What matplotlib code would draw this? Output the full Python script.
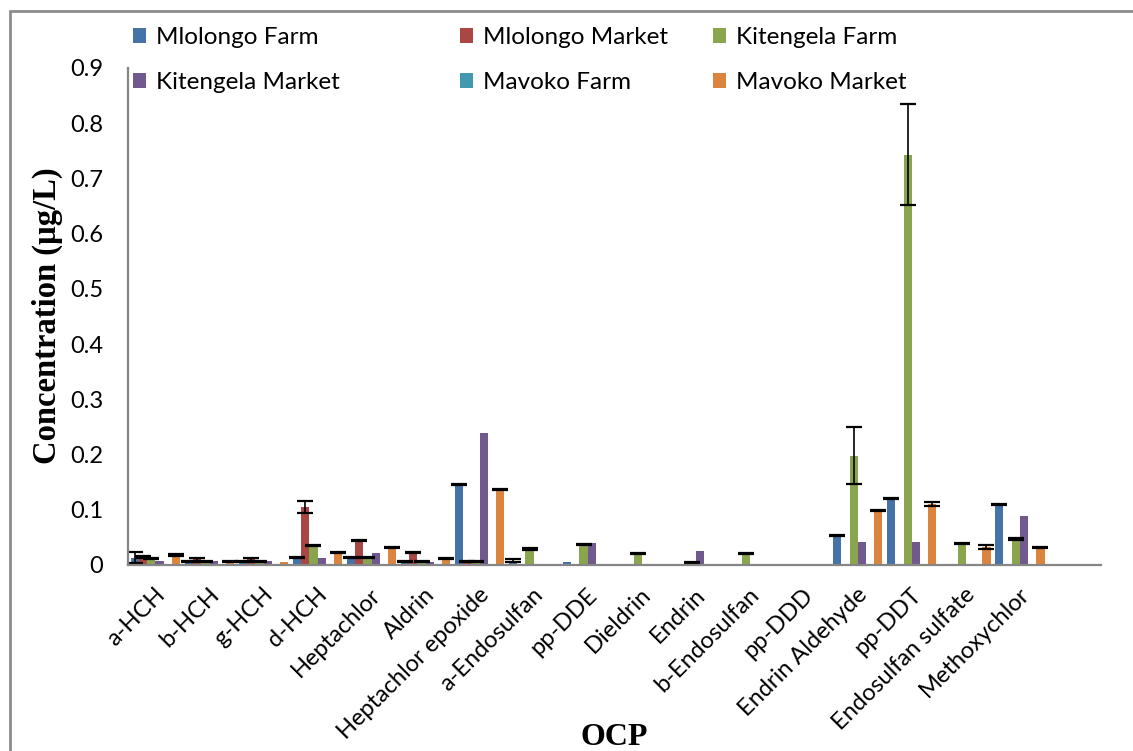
import numpy as np
import matplotlib
matplotlib.use("Agg")
import matplotlib.pyplot as plt
import matplotlib.transforms as mtransforms
from matplotlib.patches import Rectangle

plt.rcParams['font.family'] = ['Lato', 'DejaVu Sans']

# OCP residues by site (ug/L), one list per site
ocp_names = ['a-HCH', 'b-HCH', 'g-HCH', 'd-HCH', 'Heptachlor', 'Aldrin',
             'Heptachlor epoxide', 'a-Endosulfan', 'pp-DDE', 'Dieldrin',
             'Endrin', 'b-Endosulfan', 'pp-DDD', 'Endrin Aldehyde', 'pp-DDT',
             'Endosulfan sulfate', 'Methoxychlor']

series_names = ['Mlolongo Farm', 'Mlolongo Market', 'Kitengela Farm',
                'Kitengela Market', 'Mavoko Farm', 'Mavoko Market']

mlolongo_farm = [0.013, 0.007, 0.007, 0.013, 0.014, 0.006, 0.145, 0.008, 0.005,
                 0, 0, 0, 0, 0.053, 0.121, 0, 0.109]
mlolongo_market = [0.014, 0.010, 0.010, 0.105, 0.044, 0.023, 0.007, 0, 0,
                   0, 0, 0, 0, 0, 0, 0, 0]
kitengela_farm = [0.011, 0.007, 0.007, 0.035, 0.014, 0.006, 0.007, 0.029, 0.037,
                  0.020, 0.004, 0.020, 0, 0.198, 0.743, 0.039, 0.047]
kitengela_market = [0.007, 0.007, 0.007, 0.013, 0.022, 0.005, 0.239, 0, 0.040,
                    0, 0.025, 0, 0, 0.042, 0.042, 0, 0.089]
mavoko_farm = [0] * 17
mavoko_market = [0.018, 0.007, 0.005, 0.023, 0.032, 0.012, 0.137, 0, 0,
                 0, 0, 0, 0, 0.099, 0.110, 0.033, 0.032]

# standard deviations (0 = no error bar)
mlolongo_farm_sd = [0.010, 0.001, 0.001, 0.001, 0.001, 0.001, 0.001, 0.002, 0,
                    0, 0, 0, 0, 0.001, 0.001, 0, 0.001]
mlolongo_market_sd = [0.002, 0.002, 0.002, 0.010, 0.001, 0.001, 0.001, 0, 0,
                      0, 0, 0, 0, 0, 0, 0, 0]
kitengela_farm_sd = [0.001, 0.001, 0.001, 0.001, 0.001, 0.001, 0.001, 0.001, 0.001,
                     0.001, 0.001, 0.001, 0, 0.052, 0.091, 0.001, 0.001]
kitengela_market_sd = [0] * 17
mavoko_farm_sd = [0] * 17
mavoko_market_sd = [0.001, 0.001, 0, 0.001, 0.001, 0.001, 0.001, 0, 0,
                    0, 0, 0, 0, 0.001, 0.004, 0.004, 0.001]

all_values = [mlolongo_farm, mlolongo_market, kitengela_farm,
              kitengela_market, mavoko_farm, mavoko_market]
all_sds = [mlolongo_farm_sd, mlolongo_market_sd, kitengela_farm_sd,
           kitengela_market_sd, mavoko_farm_sd, mavoko_market_sd]
colors = ['#4572A7', '#AA4643', '#89A54E', '#71588F', '#4198AF', '#DB843D']

fig = plt.figure(figsize=(11.33, 7.51), dpi=100)
ax = fig.add_axes([0.1134, 0.2477, 0.9717 - 0.1134, 0.9095 - 0.2477])

x = np.arange(len(ocp_names))
bar_w = 0.152

handles = []
for k, (vals, sds, col) in enumerate(zip(all_values, all_sds, colors)):
    xpos = x + (k - 2.5) * bar_w
    b = ax.bar(xpos, vals, width=bar_w, color=col, linewidth=0,
               label=series_names[k])
    handles.append(b)
    vals = np.array(vals)
    sds = np.array(sds)
    has_err = sds > 0
    if has_err.any():
        ax.errorbar(xpos[has_err], vals[has_err], yerr=sds[has_err], fmt='none',
                    ecolor='black', elinewidth=1.2, capsize=6, capthick=1.6)

ax.set_xlim(-0.5, len(ocp_names) + 0.5)
ax.set_ylim(0, 0.9)
ax.set_yticks(np.arange(0, 0.91, 0.1))
ax.set_yticklabels(['0'] + ['%.1f' % v for v in np.arange(0.1, 0.91, 0.1)],
                   fontsize=17)
ax.set_xticks(x)
ax.set_xticklabels(ocp_names, rotation=45, ha='right', va='center',
                   rotation_mode='anchor', fontsize=17)
ax.tick_params(axis='both', length=0)
ax.tick_params(axis='x', pad=19)
ax.tick_params(axis='y', pad=18)

# nudge the slanted category names a little to the right
shift = mtransforms.ScaledTranslation(6 / 100, 0, fig.dpi_scale_trans)
for lbl in ax.get_xticklabels():
    lbl.set_transform(lbl.get_transform() + shift)

for side in ['top', 'right']:
    ax.spines[side].set_visible(False)
for side in ['left', 'bottom']:
    ax.spines[side].set_color('#868686')
    ax.spines[side].set_linewidth(1.6)

fig.text(0.042, 0.58, 'Concentration (\u00b5g/L)', rotation=90,
         ha='center', va='center', fontsize=23.5, fontweight='bold',
         family='Liberation Serif')
fig.text(0.542, 0.018, 'OCP', ha='center', va='center', fontsize=23,
         fontweight='bold', family='Liberation Serif')

# legend laid out as three columns of two entries
columns = [(0, 3), (1, 4), (2, 5)]
col_x = [133, 460, 713]
for (i, j), cx in zip(columns, col_x):
    leg = fig.legend([handles[i], handles[j]], [series_names[i], series_names[j]],
                     loc='upper left', bbox_to_anchor=(cx / 1133, 1 - 27 / 751),
                     bbox_transform=fig.transFigure, frameon=False, fontsize=17.5,
                     handlelength=0.55, handleheight=0.55, handletextpad=0.4,
                     labelspacing=1.0, borderpad=0, borderaxespad=0)

# chart area border
fig.patches.append(Rectangle((10 / 1133, -0.1), 1.2, 1 - 11 / 751 + 0.1,
                             transform=fig.transFigure, fill=False,
                             edgecolor='#8c8c8c', linewidth=2))

fig.savefig('out.png', dpi=100)
